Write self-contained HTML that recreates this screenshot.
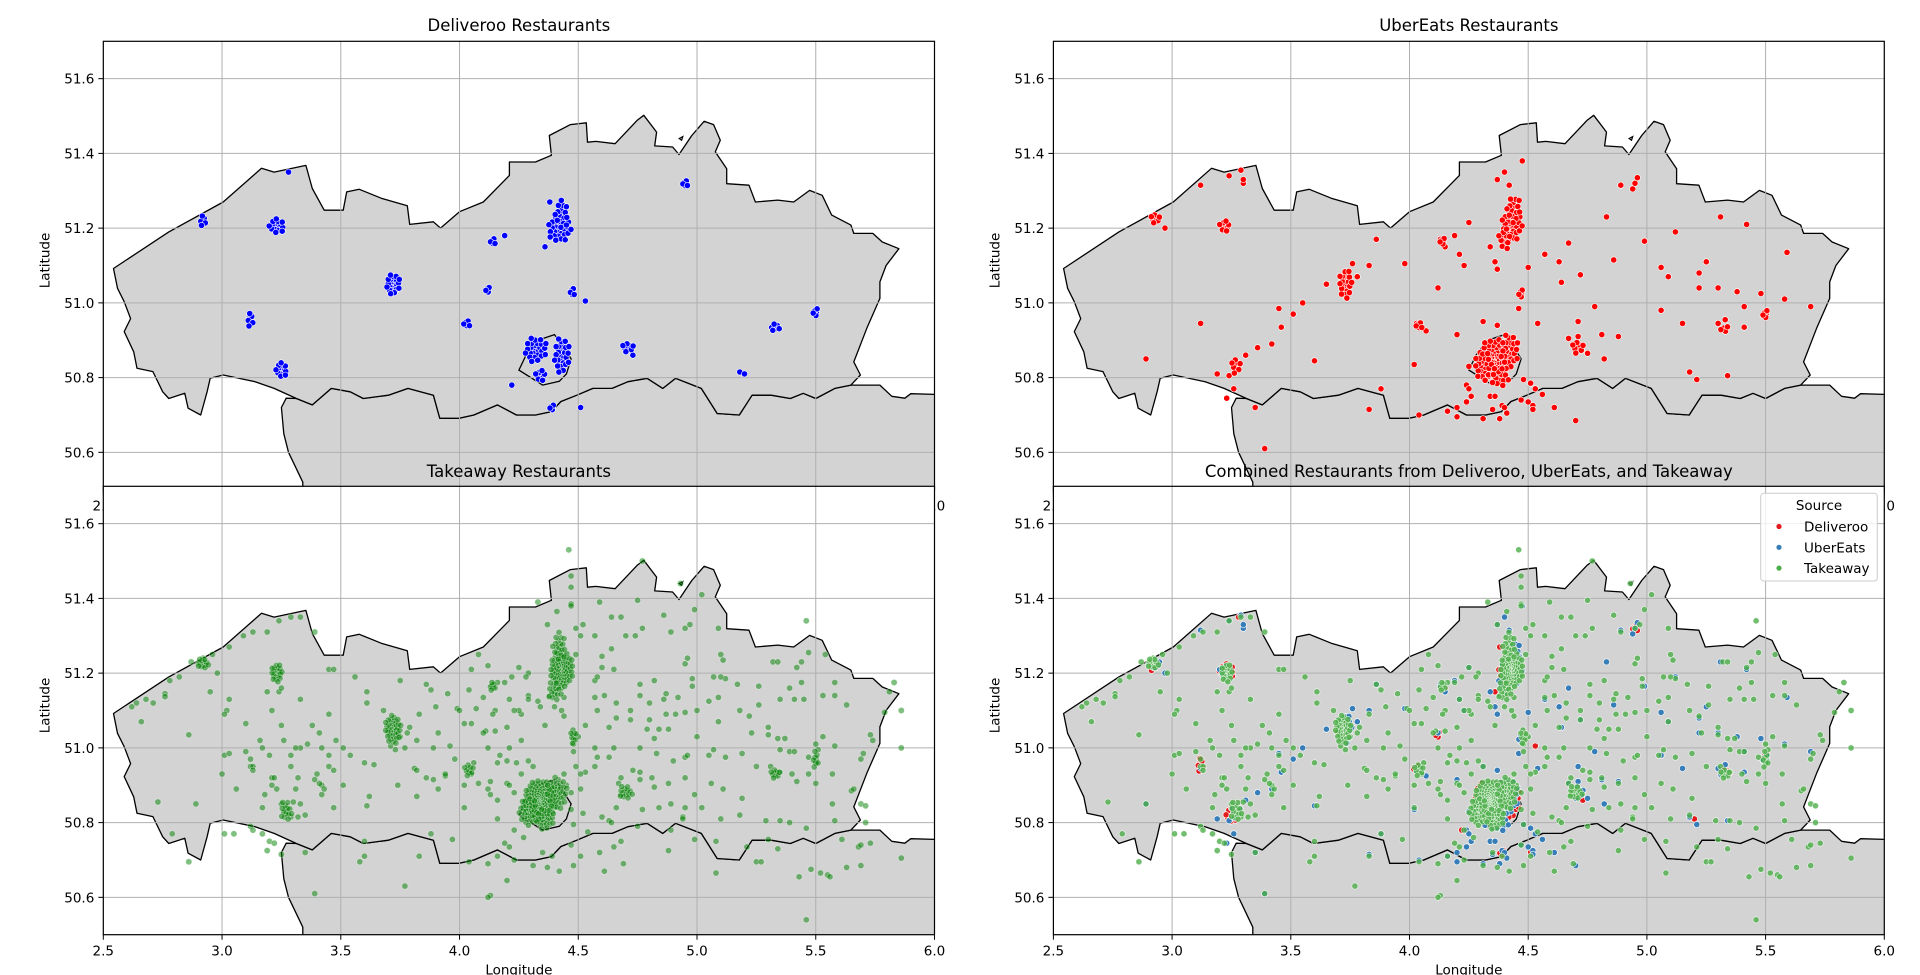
<!DOCTYPE html>
<html><head><meta charset="utf-8"><style>
html,body{margin:0;padding:0;background:#fff;}
svg{display:block;font-family:"DejaVu Sans","Liberation Sans",sans-serif;}
</style></head><body>
<svg id="fig" width="1920" height="975" viewBox="0 0 1920 975" xmlns="http://www.w3.org/2000/svg"></svg>
<script>
// ---- data (lon, lat) ----
const flandersOutline = [[2.543,51.092],[2.776,51.19],[3.005,51.27],[3.166,51.36],[3.219,51.35],[3.353,51.368],[3.38,51.306],[3.43,51.248],[3.51,51.248],[3.525,51.297],[3.578,51.304],[3.67,51.28],[3.78,51.26],[3.79,51.21],[3.89,51.217],[3.92,51.2],[4.0,51.244],[4.1,51.27],[4.21,51.341],[4.21,51.377],[4.32,51.377],[4.387,51.395],[4.378,51.448],[4.467,51.477],[4.534,51.482],[4.539,51.43],[4.574,51.432],[4.655,51.426],[4.749,51.489],[4.776,51.502],[4.83,51.457],[4.822,51.42],[4.897,51.417],[4.924,51.397],[4.978,51.448],[5.03,51.486],[5.07,51.477],[5.098,51.435],[5.077,51.404],[5.125,51.359],[5.125,51.319],[5.219,51.315],[5.246,51.27],[5.34,51.275],[5.407,51.27],[5.474,51.301],[5.527,51.288],[5.567,51.235],[5.648,51.208],[5.66,51.186],[5.74,51.186],[5.78,51.163],[5.85,51.145],[5.796,51.10],[5.77,51.056],[5.77,51.012],[5.715,50.932],[5.66,50.842],[5.688,50.807],[5.648,50.78],[5.58,50.771],[5.5,50.744],[5.447,50.758],[5.393,50.744],[5.313,50.753],[5.232,50.753],[5.178,50.70],[5.085,50.704],[5.018,50.771],[4.91,50.798],[4.856,50.771],[4.79,50.798],[4.709,50.789],[4.642,50.771],[4.561,50.771],[4.494,50.753],[4.427,50.736],[4.387,50.709],[4.32,50.70],[4.24,50.70],[4.16,50.727],[4.06,50.70],[3.998,50.691],[3.917,50.691],[3.89,50.753],[3.783,50.771],[3.70,50.753],[3.595,50.744],[3.54,50.762],[3.46,50.771],[3.38,50.727],[3.313,50.744],[3.219,50.771],[3.139,50.789],[3.005,50.807],[2.95,50.798],[2.937,50.762],[2.91,50.70],[2.857,50.718],[2.843,50.758],[2.776,50.744],[2.75,50.762],[2.709,50.816],[2.642,50.825],[2.628,50.869],[2.588,50.923],[2.615,50.958],[2.588,51.003],[2.56,51.039]];
const walloniaOutline = [[3.27,50.745],[3.313,50.744],[3.38,50.727],[3.46,50.771],[3.54,50.762],[3.595,50.744],[3.70,50.753],[3.783,50.771],[3.89,50.753],[3.917,50.691],[3.998,50.691],[4.06,50.70],[4.16,50.727],[4.24,50.70],[4.32,50.70],[4.387,50.709],[4.427,50.736],[4.494,50.753],[4.561,50.771],[4.642,50.771],[4.709,50.789],[4.79,50.798],[4.856,50.771],[4.91,50.798],[5.018,50.771],[5.085,50.704],[5.178,50.70],[5.232,50.753],[5.313,50.753],[5.393,50.744],[5.447,50.758],[5.5,50.744],[5.58,50.771],[5.648,50.78],[5.68,50.78],[5.77,50.78],[5.82,50.75],[5.875,50.745],[5.9,50.757],[6.0,50.755],[6.2,50.755],[6.2,50.3],[3.34,50.3],[3.34,50.52],[3.28,50.6],[3.26,50.65],[3.25,50.72]];
const brusselsOutline = [[4.25,50.82],[4.28,50.86],[4.33,50.90],[4.40,50.915],[4.44,50.88],[4.47,50.85],[4.45,50.81],[4.42,50.79],[4.35,50.78],[4.30,50.80]];
const baarleOutline = [[4.925,51.44],[4.94,51.445],[4.935,51.435]];

const xTicks = [2.5,3.0,3.5,4.0,4.5,5.0,5.5,6.0];
const xTickLabels = ["2.5","3.0","3.5","4.0","4.5","5.0","5.5","6.0"];
const yTicks = [50.6,50.8,51.0,51.2,51.4,51.6];
const yTickLabels = ["50.6","50.8","51.0","51.2","51.4","51.6"];

// clusters: [lon, lat, spreadLon, spreadLat, count]
const deliverooClusters = [[2.92,51.22,0.015,0.015,8],[3.23,51.205,0.035,0.02,20],[3.12,50.955,0.015,0.02,8],[3.25,50.82,0.025,0.02,20],[3.72,51.05,0.03,0.028,30],[4.14,51.165,0.012,0.012,6],[4.12,51.035,0.01,0.01,5],[4.03,50.945,0.015,0.012,6],[4.42,51.2,0.05,0.04,35],[4.43,51.235,0.03,0.04,20],[4.475,51.03,0.01,0.015,6],[4.32,50.875,0.05,0.035,30],[4.43,50.86,0.035,0.05,30],[4.34,50.805,0.025,0.015,12],[4.39,50.72,0.01,0.01,5],[4.95,51.32,0.012,0.012,6],[4.71,50.88,0.025,0.015,10],[5.33,50.935,0.025,0.01,8],[5.5,50.975,0.012,0.015,5]];
const deliverooPoints = [[3.28,51.35],[4.19,51.18],[4.22,50.78],[4.51,50.72],[4.53,51.005],[5.18,50.815],[5.2,50.81],[4.38,51.27],[4.36,51.15],[4.73,50.86]];

const uberClusters = [[2.93,51.225,0.02,0.015,10],[3.22,51.205,0.025,0.015,12],[3.27,50.83,0.02,0.025,10],[3.73,51.05,0.03,0.04,25],[4.14,51.165,0.012,0.012,5],[4.04,50.94,0.015,0.012,6],[4.43,51.21,0.045,0.05,35],[4.44,51.25,0.03,0.04,18],[4.4,51.17,0.03,0.03,12],[4.36,50.85,0.07,0.055,70],[4.31,50.83,0.04,0.04,25],[4.42,50.87,0.04,0.05,30],[4.38,50.8,0.04,0.03,15],[4.47,51.025,0.01,0.015,5],[4.71,50.88,0.025,0.02,10],[5.33,50.93,0.02,0.01,5],[5.5,50.97,0.012,0.015,5]];
const uberPoints = [[4.475,51.38],[4.40,51.35],[4.37,51.33],[4.42,51.315],[4.89,51.315],[4.94,51.305],[4.95,51.32],[4.96,51.335],[4.83,51.23],[5.31,51.23],[5.42,51.21],[5.12,51.19],[4.99,51.165],[4.67,51.16],[4.57,51.13],[4.63,51.11],[4.86,51.115],[5.25,51.11],[5.59,51.135],[5.06,51.095],[5.09,51.07],[4.72,51.075],[4.64,51.055],[5.22,51.08],[5.22,51.04],[5.3,51.04],[5.38,51.03],[5.48,51.025],[5.58,51.01],[5.69,50.99],[5.41,50.99],[5.06,50.98],[4.78,50.99],[4.46,50.985],[4.5,51.095],[4.37,51.09],[4.36,51.11],[4.34,51.15],[4.21,51.13],[4.23,51.10],[4.19,51.18],[4.25,51.215],[4.13,51.17],[4.15,51.15],[4.12,51.04],[3.98,51.105],[3.83,51.1],[3.86,51.17],[3.76,51.105],[3.78,51.07],[3.65,51.05],[3.55,51.0],[3.51,50.97],[3.45,50.985],[3.46,50.935],[3.12,50.945],[3.12,51.315],[3.24,51.34],[3.29,51.355],[3.3,51.32],[3.3,51.33],[2.97,51.2],[2.89,50.85],[3.36,50.88],[3.31,50.86],[3.42,50.89],[3.6,50.845],[3.19,50.81],[3.24,50.805],[3.26,50.77],[3.23,50.745],[3.35,50.72],[3.39,50.61],[3.83,50.715],[3.88,50.77],[4.02,50.835],[4.04,50.7],[4.16,50.71],[4.2,50.695],[4.2,50.72],[4.24,50.78],[4.25,50.77],[4.26,50.75],[4.24,50.735],[4.31,50.69],[4.35,50.715],[4.38,50.69],[4.41,50.705],[4.34,50.75],[4.36,50.75],[4.39,50.725],[4.4,50.72],[4.48,50.795],[4.51,50.785],[4.53,50.77],[4.56,50.755],[4.47,50.74],[4.5,50.735],[4.52,50.725],[4.52,50.715],[4.61,50.72],[4.7,50.685],[4.82,50.85],[4.75,50.865],[4.88,50.91],[4.81,50.915],[4.71,50.95],[4.54,50.945],[4.67,50.905],[4.71,50.91],[5.15,50.945],[5.41,50.935],[5.18,50.815],[5.21,50.795],[5.34,50.805],[5.3,50.945],[5.33,50.955],[5.49,50.965],[5.5,50.975],[4.31,50.95],[4.37,50.94],[4.2,50.915],[4.07,50.925],[4.03,50.945],[4.25,50.83]];

const takeawayClusters = [[4.34,50.86,0.07,0.055,140],[4.29,50.83,0.04,0.04,40],[4.41,50.88,0.045,0.045,45],[4.36,50.81,0.04,0.03,30],[4.43,51.21,0.05,0.05,85],[4.42,51.27,0.03,0.04,20],[4.40,51.15,0.03,0.03,15],[3.72,51.05,0.035,0.04,45],[3.23,51.2,0.025,0.025,25],[2.92,51.225,0.025,0.015,15],[3.27,50.83,0.025,0.03,15],[4.7,50.88,0.03,0.02,15],[5.33,50.93,0.02,0.015,10],[4.48,51.03,0.012,0.025,10],[4.04,50.94,0.02,0.02,10],[5.5,50.97,0.015,0.025,8],[4.14,51.165,0.015,0.012,8]];
const takeawayPoints = [[4.46,51.53],[4.77,51.50],[4.47,51.46],[4.47,51.43],[4.93,51.44],[5.02,51.41],[4.75,51.395],[4.59,51.39],[4.33,51.39],[4.47,51.385],[4.99,51.37],[4.86,51.355],[4.64,51.35],[4.68,51.35],[4.37,51.33],[4.52,51.33],[4.77,51.32],[4.95,51.32],[4.97,51.33],[5.09,51.32],[5.46,51.34],[4.89,51.31],[4.70,51.30],[4.74,51.30],[4.57,51.30],[3.29,51.35],[3.33,51.35],[3.24,51.34],[3.39,51.31],[3.19,51.31],[3.13,51.31],[3.09,51.30],[3.03,51.27],[2.96,51.25],[2.9,51.225],[2.87,51.23],[2.92,51.24],[2.82,51.19],[2.78,51.18],[2.76,51.145],[2.76,51.137],[2.68,51.13],[2.71,51.12],[2.64,51.12],[2.62,51.11],[2.66,51.07],[2.95,51.15],[3.03,51.13],[3.02,51.10],[3.01,51.09],[2.98,51.20],[3.19,51.15],[3.24,51.15],[3.25,51.16],[3.21,51.10],[3.25,51.06],[3.33,51.13],[3.10,51.065],[3.01,50.98],[3.12,50.97],[3.12,50.95],[3.13,50.95],[3.2,50.98],[3.21,50.92],[3.22,50.92],[3.23,50.89],[3.29,50.95],[3.32,50.92],[3.38,51.06],[3.41,51.04],[3.45,51.09],[3.45,51.21],[3.47,51.21],[3.56,51.19],[3.61,51.12],[3.68,51.10],[3.75,51.18],[3.83,51.09],[3.86,51.17],[3.88,51.155],[3.95,51.145],[3.9,51.11],[3.99,51.105],[4.0,51.10],[3.91,51.04],[3.89,51.0],[3.96,51.005],[3.98,50.97],[3.94,50.925],[3.86,50.92],[3.81,50.945],[3.54,50.98],[3.61,51.15],[3.42,51.0],[3.33,51.0],[3.45,50.98],[3.51,50.9],[3.47,50.94],[3.42,50.9],[3.41,50.905],[3.43,50.89],[3.6,50.96],[3.64,50.955],[3.61,50.845],[3.62,50.87],[3.47,50.84],[3.3,50.855],[3.27,50.84],[3.27,50.825],[3.29,50.815],[3.25,50.85],[3.32,50.815],[3.35,50.82],[3.17,50.84],[3.18,50.875],[3.06,50.89],[2.89,50.85],[2.86,51.035],[2.73,50.855],[2.79,50.77],[2.86,50.695],[3.01,50.77],[3.05,50.77],[3.12,50.79],[3.13,50.78],[3.17,50.77],[3.2,50.75],[3.22,50.745],[3.19,50.725],[3.25,50.715],[3.35,50.72],[3.6,50.75],[3.58,50.695],[3.6,50.71],[3.77,50.63],[3.39,50.61],[3.88,50.77],[3.83,50.71],[3.97,50.755],[4.04,50.695],[4.02,50.84],[4.12,50.69],[4.16,50.71],[4.19,50.745],[4.21,50.735],[4.23,50.70],[4.2,50.645],[4.13,50.605],[4.12,50.6],[4.16,50.81],[4.23,50.78],[4.27,50.76],[4.31,50.685],[4.37,50.68],[4.42,50.67],[4.35,50.72],[4.39,50.71],[4.48,50.685],[4.51,50.71],[4.47,50.74],[4.54,50.775],[4.59,50.72],[4.61,50.67],[4.65,50.735],[4.69,50.69],[4.68,50.75],[4.88,50.725],[4.89,50.78],[4.99,50.755],[5.08,50.75],[5.08,50.665],[5.21,50.735],[5.25,50.695],[5.27,50.695],[5.3,50.755],[5.34,50.73],[5.43,50.655],[5.48,50.675],[5.52,50.665],[5.55,50.66],[5.56,50.655],[5.46,50.54],[5.46,50.785],[5.39,50.8],[5.35,50.805],[5.29,50.805],[5.18,50.82],[5.10,50.81],[4.94,50.815],[4.94,50.81],[4.95,50.84],[4.89,50.85],[5.02,50.84],[4.84,50.84],[4.77,50.835],[4.66,50.84],[4.6,50.815],[4.52,50.825],[4.48,50.795],[4.63,50.805],[4.64,50.8],[4.75,50.79],[5.65,50.885],[5.66,50.89],[5.69,50.85],[5.71,50.845],[5.57,50.85],[5.58,50.805],[5.71,50.8],[5.68,50.735],[5.69,50.74],[5.73,50.745],[5.86,50.705],[5.61,50.755],[5.69,50.685],[5.63,50.68],[5.86,51.0],[5.86,51.1],[5.83,51.175],[5.81,51.15],[5.79,51.095],[5.73,51.035],[5.74,51.02],[5.70,50.985],[5.69,50.97],[5.58,51.005],[5.53,51.03],[5.5,51.01],[5.51,50.995],[5.47,50.975],[5.5,50.96],[5.57,50.93],[5.5,50.905],[5.47,50.93],[5.42,50.91],[5.4,50.93],[5.31,50.95],[5.25,50.95],[5.35,50.935],[5.39,50.99],[5.41,50.99],[5.35,50.995],[5.37,51.025],[5.3,51.035],[5.34,51.025],[5.3,51.055],[5.23,51.04],[5.22,51.085],[5.18,51.1],[5.09,51.07],[5.05,51.125],[5.09,51.135],[5.26,51.115],[5.35,51.13],[5.41,51.13],[5.45,51.13],[5.39,51.16],[5.44,51.175],[5.58,51.175],[5.58,51.14],[5.53,51.14],[5.63,51.115],[5.42,51.215],[5.44,51.23],[5.32,51.23],[5.34,51.23],[5.47,51.255],[5.54,51.25],[5.26,51.165],[5.17,51.17],[5.12,51.185],[5.1,51.19],[4.98,51.165],[4.98,51.185],[5.07,51.19],[4.95,51.225],[4.96,51.24],[5.11,51.235],[5.1,51.25],[4.82,51.18],[4.76,51.17],[4.87,51.145],[4.86,51.13],[4.92,51.135],[4.95,51.095],[4.91,51.09],[5.0,51.1],[4.87,51.09],[4.8,51.12],[4.76,51.14],[4.72,51.1],[4.66,51.08],[4.72,51.075],[4.8,51.075],[4.79,51.05],[4.84,51.05],[4.88,51.05],[4.82,51.025],[4.76,51.0],[4.83,50.985],[4.90,50.965],[4.95,50.975],[4.96,50.98],[5.0,51.03],[5.05,50.98],[5.07,50.995],[5.12,50.975],[5.19,50.985],[5.11,50.89],[5.06,50.905],[4.99,50.875],[5.19,50.865],[4.95,50.92],[4.88,50.905],[4.82,50.895],[4.81,50.92],[4.76,50.935],[4.73,50.94],[4.68,50.92],[4.67,50.905],[4.71,50.88],[4.68,50.875],[4.76,50.915],[4.57,50.95],[4.53,50.935],[4.63,50.975],[4.57,51.0],[4.58,50.975],[4.65,51.0],[4.48,50.99],[4.5,51.03],[4.48,51.01],[4.53,51.06],[4.63,51.055],[4.58,51.1],[4.66,51.12],[4.61,51.14],[4.57,51.135],[4.57,51.18],[4.6,51.215],[4.65,51.21],[4.58,51.19],[4.64,51.265],[4.6,51.245],[4.49,51.25],[4.51,51.3],[4.49,51.32],[4.41,51.365],[4.47,51.38],[4.43,51.16],[4.44,51.135],[4.43,51.1],[4.44,51.085],[4.4,51.11],[4.33,51.125],[4.34,51.11],[4.29,51.14],[4.29,51.13],[4.36,51.06],[4.38,51.14],[4.26,51.09],[4.25,51.1],[4.21,51.13],[4.23,51.1],[4.22,51.19],[4.25,51.215],[4.29,51.2],[4.28,51.19],[4.19,51.175],[4.16,51.175],[4.12,51.22],[4.08,51.25],[4.05,51.21],[4.04,51.155],[4.1,51.135],[4.15,51.1],[4.14,51.09],[4.07,51.105],[4.05,51.065],[4.02,51.065],[4.11,51.045],[4.1,51.04],[4.15,51.045],[4.12,51.0],[4.2,51.055],[4.26,51.02],[4.21,51.0],[4.24,50.96],[4.29,50.965],[4.2,50.965],[4.17,50.98],[4.16,50.96],[4.05,50.93],[4.06,50.96],[4.13,50.91],[4.2,50.905],[4.21,50.9],[4.23,50.88],[4.12,50.89],[4.16,50.86],[4.13,50.875],[4.26,50.93],[4.31,50.95],[4.49,50.95],[4.51,50.93],[4.44,50.93],[4.45,50.9],[4.47,50.88],[4.47,50.835],[4.51,50.89],[4.08,50.905],[4.02,50.9],[3.94,50.93],[3.89,50.915],[3.91,50.89],[3.82,50.94],[3.82,50.87],[3.74,50.9],[3.77,51.0],[3.73,50.995],[3.75,51.03],[3.78,51.04],[3.79,51.055],[3.82,51.02],[3.71,51.005],[3.51,51.0],[3.48,51.02],[3.36,51.01],[3.31,51.0],[3.26,51.02],[3.29,50.98],[3.16,51.02],[3.17,51.0],[3.13,50.94],[3.03,50.985],[3.0,50.93],[3.1,50.99],[3.21,50.9],[3.31,50.89],[3.33,50.85],[3.42,50.875],[3.39,50.915],[3.45,50.95],[3.4,50.93]];

// ---- layout ----
const NS = "http://www.w3.org/2000/svg";
const svg = document.getElementById('fig');
const LON0 = 2.5, LON1 = 6.0, LAT0 = 50.5, LAT1 = 51.7;
function el(tag, attrs, parent) {
  const e = document.createElementNS(NS, tag);
  for (const k in attrs) e.setAttribute(k, attrs[k]);
  (parent || svg).appendChild(e);
  return e;
}
function expand(clusters, points) {
  const out = points.slice();
  clusters.forEach(c => {
    const [cx, cy, sx, sy, n] = c;
    for (let i = 0; i < n; i++) {
      const r = Math.pow((i + 0.5) / n, 0.75), a = i * 2.39996;
      out.push([cx + sx * r * Math.cos(a), cy + sy * r * Math.sin(a)]);
    }
  });
  return out;
}
function makePanel(id, x0, y0, W, H, title, titleY, series) {
  const X = lon => x0 + (lon - LON0) / (LON1 - LON0) * W;
  const Y = lat => y0 + (LAT1 - lat) / (LAT1 - LAT0) * H;
  const g = el('g', {});
  
  
  const bg = el('rect', {x: x0, y: y0, width: W, height: H, fill: '#fff'}, g);
  
  
  const clip = el('clipPath', {id: 'clip-' + id}, g);
  el('rect', {x: x0, y: y0, width: W, height: H}, clip);
  const inner = el('g', {'clip-path': 'url(#clip-' + id + ')'}, g);
  const pts = arr => arr.map(p => X(p[0]).toFixed(1) + ',' + Y(p[1]).toFixed(1)).join(' ');
  const wal = el('polygon', {points: pts(walloniaOutline), fill: '#d3d3d3', stroke: '#000', 'stroke-width': 1.3, 'stroke-linejoin': 'round'}, inner);
  
  
  const fl = el('polygon', {points: pts(flandersOutline), fill: '#d3d3d3', stroke: '#000', 'stroke-width': 1.3, 'stroke-linejoin': 'round'}, inner);
  
  
  const br = el('polygon', {points: pts(brusselsOutline), fill: '#d3d3d3', stroke: '#000', 'stroke-width': 1.3}, inner);
  
  
  const ba = el('polygon', {points: pts(baarleOutline), fill: '#fff', stroke: '#000', 'stroke-width': 1.2}, inner);
  
  
  xTicks.forEach(t => {
    const l = el('line', {x1: X(t), x2: X(t), y1: y0, y2: y0 + H, stroke: '#b0b0b0', 'stroke-width': 1}, inner);
    
    
  });
  yTicks.forEach(t => {
    const l = el('line', {x1: x0, x2: x0 + W, y1: Y(t), y2: Y(t), stroke: '#b0b0b0', 'stroke-width': 1}, inner);
    
    
  });
  series.forEach(s => {
    const sg = el('g', {}, inner);
    
    
    s.data.forEach(p => {
      const c = el('circle', {cx: X(p[0]).toFixed(1), cy: Y(p[1]).toFixed(1), r: 3.1, fill: s.color, 'fill-opacity': s.alpha, stroke: '#fff', 'stroke-width': 0.6, 'stroke-opacity': s.alpha}, sg);
      
      
    });
  });
  const fr = el('rect', {x: x0, y: y0, width: W, height: H, fill: 'none', stroke: '#000', 'stroke-width': 1.2}, g);
  
  
  xTicks.forEach((t, i) => {
    el('line', {x1: X(t), x2: X(t), y1: y0 + H, y2: y0 + H + 5, stroke: '#000', 'stroke-width': 1}, g);
    const tx = el('text', {x: X(t), y: y0 + H + 21, 'font-size': 13.5, 'text-anchor': 'middle', fill: '#000'}, g);
    tx.textContent = xTickLabels[i];
    
    
  });
  yTicks.forEach((t, i) => {
    el('line', {x1: x0 - 5, x2: x0, y1: Y(t), y2: Y(t), stroke: '#000', 'stroke-width': 1}, g);
    const tx = el('text', {x: x0 - 9, y: Y(t) + 5, 'font-size': 13.5, 'text-anchor': 'end', fill: '#000'}, g);
    tx.textContent = yTickLabels[i];
    
    
  });
  const yl = el('text', {x: x0 - 49, y: y0 + H / 2, 'font-size': 13.5, 'text-anchor': 'middle', transform: 'rotate(-90 ' + (x0 - 54) + ' ' + (y0 + H / 2) + ')', fill: '#000'}, g);
  yl.textContent = 'Latitude';
  
  
  const xl = el('text', {x: x0 + W / 2, y: y0 + H + 40, 'font-size': 13.5, 'text-anchor': 'middle', fill: '#000'}, g);
  xl.textContent = 'Longitude';
  
  
  return {title: title, x: x0 + W / 2, y: titleY};
}
const deliveroo = expand(deliverooClusters, deliverooPoints);
const uber = expand(uberClusters, uberPoints);
const takeaway = expand(takeawayClusters, takeawayPoints);

const titles = [];
titles.push(makePanel('deliveroo', 103.3, 41.3, 831.2, 448.4, 'Deliveroo Restaurants', 31, [{name: 'deliveroo-points', data: deliveroo, color: '#0000ff', alpha: 1}]));
titles.push(makePanel('ubereats', 1053.4, 41.3, 830.9, 448.4, 'UberEats Restaurants', 31, [{name: 'ubereats-points', data: uber, color: '#ff0000', alpha: 1}]));
titles.push(makePanel('takeaway', 103.3, 486.3, 831.2, 448.4, 'Takeaway Restaurants', 477, [{name: 'takeaway-points', data: takeaway, color: '#008000', alpha: 0.5}]));
titles.push(makePanel('combined', 1053.4, 486.3, 830.9, 448.4, 'Combined Restaurants from Deliveroo, UberEats, and Takeaway', 477, [
  {name: 'combined-deliveroo-points', data: deliveroo, color: '#e41a1c', alpha: 1},
  {name: 'combined-ubereats-points', data: uber, color: '#377eb8', alpha: 1},
  {name: 'combined-takeaway-points', data: takeaway, color: '#4daf4a', alpha: 0.8}]));
titles.forEach(t => {
  const tx = el('text', {x: t.x, y: t.y, 'font-size': 16.5, 'text-anchor': 'middle', fill: '#000'});
  tx.textContent = t.title;
  
  
});
const legendLabels = ['Deliveroo', 'UberEats', 'Takeaway'];
const legendColors = ['#e41a1c', '#377eb8', '#4daf4a'];
const lg = el('g', {});


el('rect', {x: 1760.7, y: 493.3, width: 116.6, height: 87.7, rx: 3, fill: '#fff', 'fill-opacity': 0.8, stroke: '#cccccc', 'stroke-width': 1}, lg);
const lt = el('text', {x: 1819, y: 510, 'font-size': 13.5, 'text-anchor': 'middle', fill: '#000'}, lg);
lt.textContent = 'Source';


legendLabels.forEach((lab, i) => {
  const y = 526.5 + i * 20.8;
  const c = el('circle', {cx: 1779, cy: y, r: 2.6, fill: legendColors[i]}, lg);
  
  
  const t = el('text', {x: 1804, y: y + 5, 'font-size': 13.5, fill: '#000'}, lg);
  t.textContent = lab;
  
  
});
</script>
</body></html>
